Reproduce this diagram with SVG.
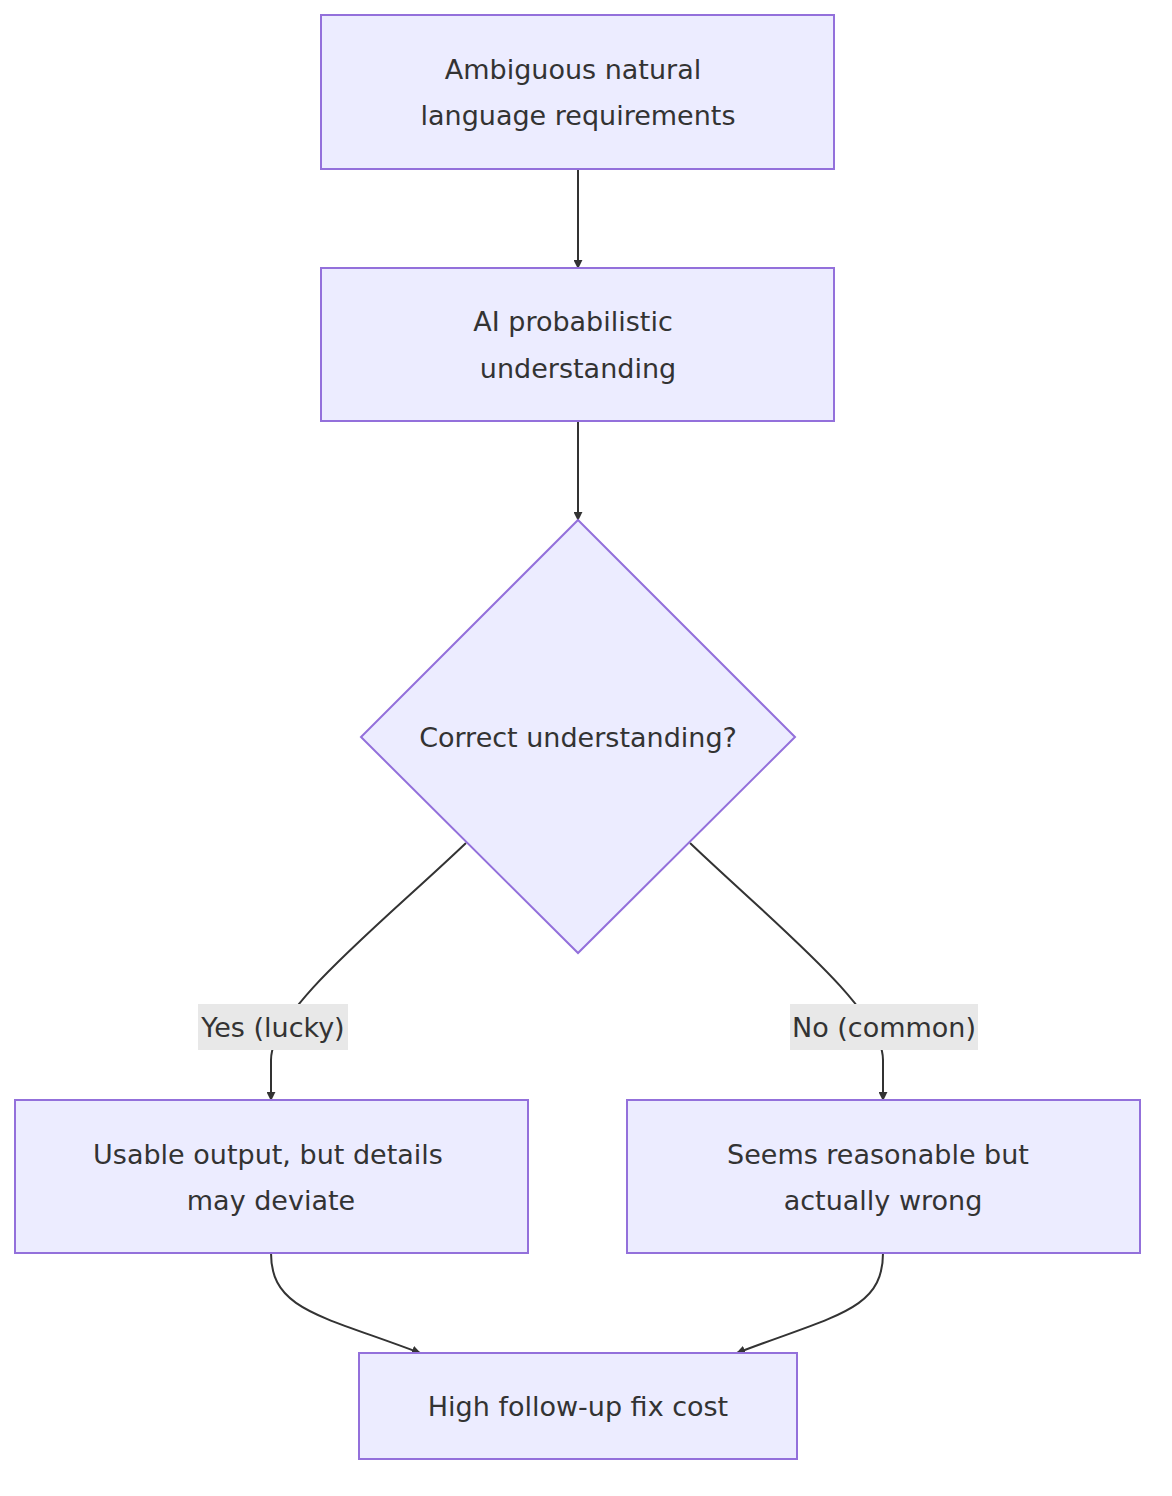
<svg xmlns="http://www.w3.org/2000/svg" width="1172" height="1496" viewBox="0 0 1172 1496">
<style>
.n{fill:#ececff;stroke:#9370db;stroke-width:2}
.t{font-family:"DejaVu Sans",sans-serif;font-size:27px;fill:#333;text-anchor:middle}
.e{fill:none;stroke:#333;stroke-width:2;marker-end:url(#a)}
.lb{fill:#e8e8e8}
</style>
<defs><marker id="a" viewBox="0 0 10 10" refX="9" refY="5" markerWidth="9" markerHeight="9" markerUnits="userSpaceOnUse" orient="auto"><path d="M0,0L10,5L0,10z" fill="#333"/></marker></defs>
<rect width="1172" height="1496" fill="#fff"/>
<g id="edges">
<path class="e" d="M578,169V268"/>
<path class="e" d="M578,421V520"/>
<path class="e" d="M466,843C380,925 271,1010 271,1060V1100"/>
<path class="e" d="M690,843C776,925 883,1010 883,1060V1100"/>
<path class="e" d="M271,1253C271,1310 320,1315 420,1353"/>
<path class="e" d="M883,1253C883,1310 836,1315 737,1353"/>
<rect class="lb" x="198" y="1004" width="150" height="46"/>
<text class="t" x="273" y="1037">Yes (lucky)</text>
<rect class="lb" x="790" y="1004" width="188" height="46"/>
<text class="t" x="884" y="1037">No (common)</text>
</g>
<g id="A"><rect class="n" x="321" y="15" width="513" height="154"/><text class="t" x="573" y="79">Ambiguous natural</text><text class="t" x="578" y="125">language requirements</text></g>
<g id="B"><rect class="n" x="321" y="268" width="513" height="153"/><text class="t" x="573" y="331">AI probabilistic</text><text class="t" x="578" y="378">understanding</text></g>
<g id="C"><polygon class="n" points="578,520 795,737 578,953 361,737"/><text class="t" x="578" y="747">Correct understanding?</text></g>
<g id="D"><rect class="n" x="15" y="1100" width="513" height="153"/><text class="t" x="268" y="1164">Usable output, but details</text><text class="t" x="271" y="1210">may deviate</text></g>
<g id="E"><rect class="n" x="627" y="1100" width="513" height="153"/><text class="t" x="878" y="1164">Seems reasonable but</text><text class="t" x="883" y="1210">actually wrong</text></g>
<g id="F"><rect class="n" x="359" y="1353" width="438" height="106"/><text class="t" x="578" y="1416">High follow-up fix cost</text></g>
</svg>
